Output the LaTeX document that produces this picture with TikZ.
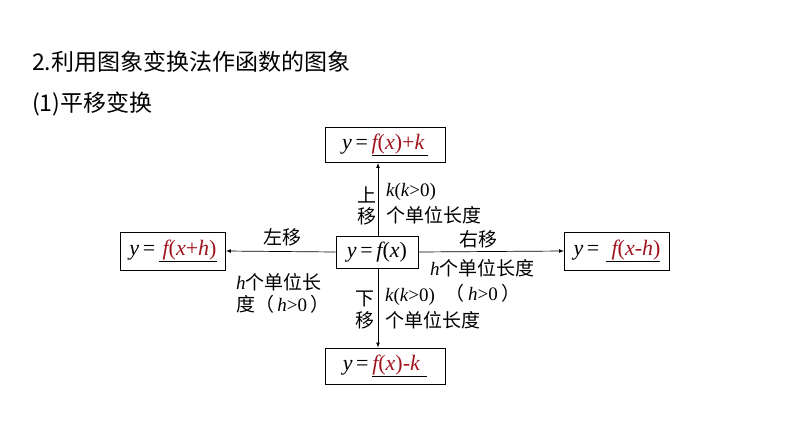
\documentclass[tikz,border=0pt]{standalone}
\usepackage{fontspec}
\setmainfont{Liberation Serif}
\newfontfamily\cjk{Noto Sans CJK SC}
\newfontfamily\lser{Liberation Serif}
\definecolor{dred}{HTML}{A0141E}
\newcommand{\mi}[1]{{\lser\itshape #1}}
\newcommand{\nr}[1]{{\lser #1}}
\newcommand{\rr}[1]{\underline{\textcolor{dred}{#1}}}
\begin{document}
\begin{tikzpicture}[x=1pt,y=-1pt,
  box/.style={draw,line width=0.9pt,inner xsep=5pt,font=\fontsize{22}{24}\selectfont\lser},
  lab/.style={font=\fontsize{19}{22}\selectfont\cjk,inner sep=0pt},
  arr/.style={-latex,line width=0.7pt}]
\useasboundingbox (0,0) rectangle (794,447);
\node[anchor=west,font=\fontsize{23}{26}\selectfont\cjk,inner sep=0] (t1) at (32,62) {2.利用图象变换法作函数的图象};
\node[anchor=west,font=\fontsize{23}{26}\selectfont\cjk,inner sep=0] (t2) at (32,104) {(1)平移变换};
\node[box,minimum width=82pt,minimum height=32pt] (c) at (377,252) {\mi{y}\,=\,\mi{f}(\mi{x})};
\node[box,minimum width=120pt,minimum height=35pt] (u) at (385,145) {\mi{y}\,=\,\rr{\mi{f}(\mi{x})+\mi{k}\,}};
\node[box,minimum width=120pt,minimum height=36pt] (d) at (385,366) {\mi{y}\,=\,\rr{\mi{f}(\mi{x})-\mi{k}\,\,}};
\node[box,minimum width=105pt,minimum height=38pt] (l) at (173,251) {\mi{y}\,=\,\rr{\,\mi{f}(\mi{x}+\mi{h})}};
\node[box,minimum width=105pt,minimum height=38pt] (r) at (617,251) {\mi{y}\,=\;\rr{\;\mi{f}(\mi{x}-\mi{h})}};
\coordinate (cu) at (378,236); \coordinate (cd) at (378,268);
\draw[arr] (cu) -- (u.south -| cu);
\draw[arr] (cd) -- (d.north -| cd);
\draw[arr] (c.west) -- (l.east);
\draw[arr] (c.east) -- (r.west);
\node[lab] (s1) at (367,195) {上};
\node[lab] (s2) at (367,216) {移};
\node[lab,anchor=west] (s3) at (386,192) {\mi{k}\nr{(}\mi{k}\nr{>0)}};
\node[lab,anchor=west] (s4) at (386,215) {个单位长度};
\node[lab] (x1) at (365,299) {下};
\node[lab] (x2) at (365,320) {移};
\node[lab,anchor=west] (x3) at (385,297) {\mi{k}\nr{(}\mi{k}\nr{>0)}};
\node[lab,anchor=west] (x4) at (385,320) {个单位长度};
\node[lab] (l1) at (282,237) {左移};
\node[lab,anchor=west] (l2) at (236,282) {\mi{h}个单位长};
\node[lab,anchor=west] (l3) at (236,304) {度（\,\mi{h}\nr{>0}\,）};
\node[lab] (r1) at (478,239) {右移};
\node[lab,anchor=west] (r2) at (430,268) {\mi{h}个单位长度};
\node[lab] (r3) at (483,293) {（\,\mi{h}\nr{>0}\,）};
\end{tikzpicture}
\end{document}
